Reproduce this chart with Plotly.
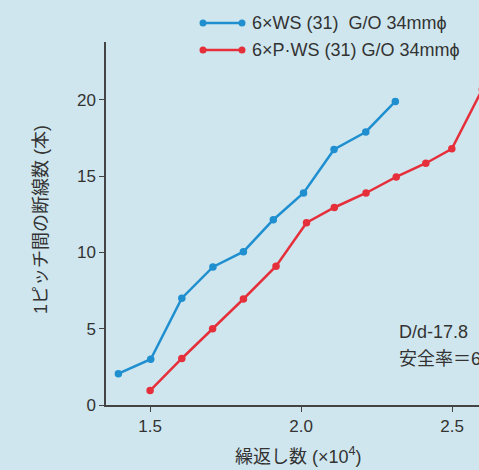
import plotly.graph_objects as go

# Data (cycles x10^4, broken wires per pitch)
ws_x = [1.395, 1.502, 1.605, 1.708, 1.809, 1.908, 2.008, 2.109, 2.214, 2.312]
ws_y = [2.05, 3.0, 7.0, 9.05, 10.05, 12.15, 13.9, 16.75, 17.9, 19.9]
pws_x = [1.5, 1.605, 1.707, 1.809, 1.917, 2.018, 2.11, 2.215, 2.315, 2.413, 2.499, 2.6]
pws_y = [0.95, 3.05, 5.0, 6.95, 9.1, 11.95, 12.95, 13.9, 14.95, 15.85, 16.8, 20.7]

ws_name = "6×WS (31)  G/O 34mmϕ"
pws_name = "6×P·WS (31) G/O 34mmϕ"
x_ticks = [1.5, 2.0, 2.5]
x_tick_labels = ["1.5", "2.0", "2.5"]
y_ticks = [0, 5, 10, 15, 20]
note_lines = ["D/d-17.8", "安全率＝6"]

BLUE = "#1f8fd0"
RED = "#e5303c"
BG = "#cfe6ee"
TXT = "#333333"
FONT = "Liberation Sans, Noto Sans CJK JP, sans-serif"

fig = go.Figure()
fig.add_trace(go.Scatter(x=ws_x, y=ws_y, mode="lines+markers",
                         line=dict(color=BLUE, width=2.5),
                         marker=dict(color=BLUE, size=7.5), showlegend=False))
fig.add_trace(go.Scatter(x=pws_x, y=pws_y, mode="lines+markers",
                         line=dict(color=RED, width=2.5),
                         marker=dict(color=RED, size=7.5), showlegend=False))

W, H = 479, 470
L, T = 106, 42
B = H - 405
pw = W - L
ph = H - T - B

def px(x):
    return (x - L) / pw

def py(y):
    return (H - B - y) / ph

shapes = []
annotations = []
for name, col, yy in [(ws_name, BLUE, 23), (pws_name, RED, 50)]:
    shapes.append(dict(type="line", xref="paper", yref="paper",
                       x0=px(203), x1=px(242), y0=py(yy), y1=py(yy),
                       line=dict(color=col, width=2.5)))
    for cx in (203, 242):
        shapes.append(dict(type="circle", xref="paper", yref="paper",
                           x0=px(cx - 3.5), x1=px(cx + 3.5),
                           y0=py(yy + 3.5), y1=py(yy - 3.5),
                           fillcolor=col, line=dict(color=col, width=0)))
    annotations.append(dict(text=name, xref="paper", yref="paper",
                            x=px(250), y=py(yy), xanchor="left", yanchor="middle",
                            showarrow=False, font=dict(size=18, color=TXT, family=FONT)))

for i, line in enumerate(note_lines):
    annotations.append(dict(text=line, xref="paper", yref="paper",
                            x=px(397), y=py(332 + i * 27), xanchor="left", yanchor="middle",
                            showarrow=False, font=dict(size=18, color=TXT, family=FONT)))

annotations.append(dict(text="1ピッチ間の断線数 (本)", xref="paper", yref="paper",
                        x=px(41), y=py(220), textangle=-90, xanchor="center", yanchor="middle",
                        showarrow=False, font=dict(size=18, color=TXT, family=FONT)))
annotations.append(dict(text="繰返し数 (×10<sup>4</sup>)", xref="paper", yref="paper",
                        x=px(298), y=py(455), xanchor="center", yanchor="middle",
                        showarrow=False, font=dict(size=18, color=TXT, family=FONT)))

fig.update_layout(
    width=W, height=H,
    margin=dict(l=L, r=0, t=T, b=B),
    paper_bgcolor=BG, plot_bgcolor=BG,
    shapes=shapes, annotations=annotations,
    font=dict(family=FONT, color=TXT, size=16),
)
fig.update_xaxes(range=[1.354, 2.589], tickvals=x_ticks, ticktext=x_tick_labels,
                 showgrid=False, zeroline=False, showline=True, linecolor="#444444",
                 linewidth=1.5, ticks="outside", ticklen=5, tickcolor="#444444",
                 tickfont=dict(size=17, color=TXT))
fig.update_yaxes(range=[0, 23.8], tickvals=y_ticks,
                 showgrid=False, zeroline=False, showline=True, linecolor="#444444",
                 linewidth=1.5, ticks="outside", ticklen=5, tickcolor="#444444",
                 tickfont=dict(size=17, color=TXT))

fig.write_html("out.html",
               config={"displayModeBar": False},
               post_script="document.body.style.margin='0';"
                           "document.body.style.overflow='hidden';")
